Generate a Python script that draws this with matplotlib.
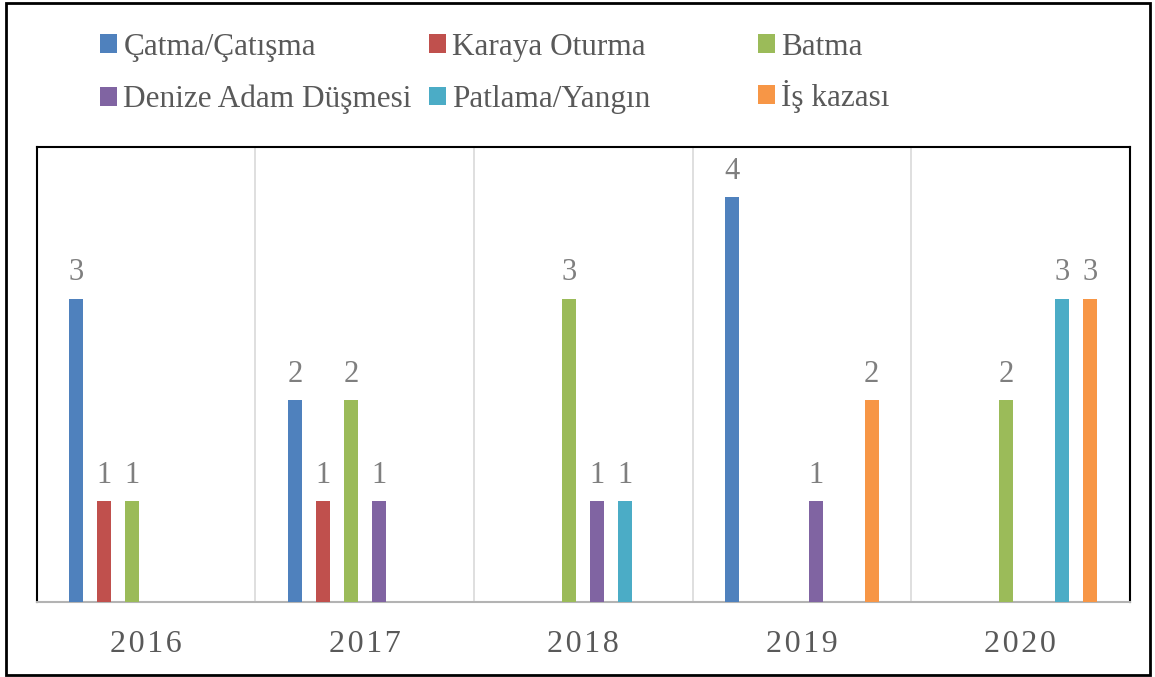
import matplotlib.pyplot as plt
import matplotlib.patches as mpatches
import numpy as np

plt.rcParams['font.family'] = ['Liberation Serif', 'DejaVu Serif']

# veriler
years = ['2016', '2017', '2018', '2019', '2020']
series = ['Çatma/Çatışma', 'Karaya Oturma', 'Batma',
          'Denize Adam Düşmesi', 'Patlama/Yangın', 'İş kazası']
catma = [3, 2, 0, 4, 0]
karaya = [1, 1, 0, 0, 0]
batma = [1, 2, 3, 0, 2]
denize = [0, 1, 1, 1, 0]
patlama = [0, 0, 1, 0, 3]
is_kazasi = [0, 0, 0, 2, 3]
values = [catma, karaya, batma, denize, patlama, is_kazasi]
colors = ['#4F81BD', '#C0504D', '#9BBB59', '#8064A2', '#4BACC6', '#F79646']

fig = plt.figure(figsize=(11.55, 6.77), dpi=100)
ax = fig.add_axes([0.032, 0.111, 0.946, 0.672])

x = np.arange(len(years))
pitch = 0.128
width = 0.064
handles = []
for i, (vals, col) in enumerate(zip(values, colors)):
    bars = ax.bar(x + (i - 2.5) * pitch, vals, width, color=col, zorder=3)
    handles.append(bars)
    labels = [str(v) if v else '' for v in vals]
    ax.bar_label(bars, labels=labels, padding=8, fontsize=22, color='#7f7f7f')

ax.set_xlim(-0.5, len(years) - 0.5)
ax.set_ylim(0, 4.5)
ax.set_yticks([])
ax.set_xticks(x)
ax.set_xticklabels(['\u200a'.join(y) for y in years], fontsize=23, color='#595959')
ax.tick_params(axis='x', length=0, pad=20)

# kategori ayırıcı çizgiler
for b in np.arange(0.5, len(years) - 0.5, 1):
    ax.axvline(b, color='#d9d9d9', lw=1.2, zorder=1)

for side in ['left', 'top', 'right']:
    ax.spines[side].set_color('black')
    ax.spines[side].set_linewidth(1.5)
ax.spines['bottom'].set_color('#b3b3b3')
ax.spines['bottom'].set_linewidth(1.5)

# lejant: 3 sütun x 2 satır, her giriş ayrı yerleştirildi
col_x = [100 / 1155, 429 / 1155, 758 / 1155]
row_y = [0.930, 0.853]
for k, (h, lab) in enumerate(zip(handles, series)):
    r, c = divmod(k, 3)
    y = row_y[r] + (0.005 if lab.startswith('İ') else 0)  # İ harfi kutuyu uzatıyor
    leg = fig.legend([h], [lab], loc='center left', bbox_to_anchor=(col_x[c], y),
                     frameon=False, fontsize=22.5, handlelength=0.55, handleheight=0.55,
                     handletextpad=0.2, borderaxespad=0, borderpad=0)
    leg.get_texts()[0].set_color('#595959')

# dış çerçeve
fig.patches.append(mpatches.Rectangle((6 / 1155, 2 / 677), 1144 / 1155, 672 / 677,
                                      transform=fig.transFigure, fill=False,
                                      edgecolor='black', lw=2))

fig.savefig('out.png', dpi=100)
